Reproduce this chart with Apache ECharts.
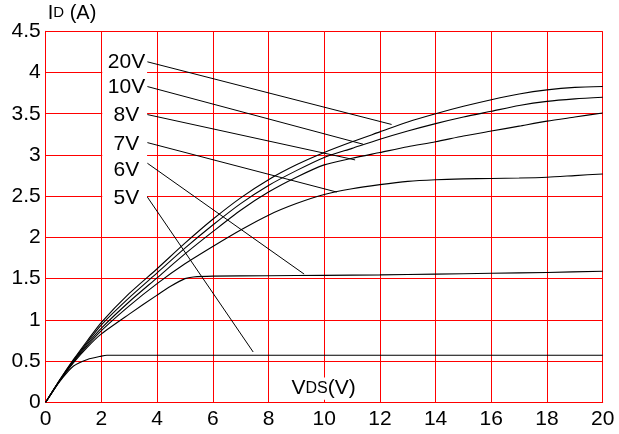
<!DOCTYPE html>
<html>
<head>
<meta charset="utf-8">
<script src="https://cdn.jsdelivr.net/npm/echarts@6/dist/echarts.min.js"></script>
<style>
  html, body { margin: 0; padding: 0; background: #fff; }
  #chart { width: 619px; height: 434px; }
</style>
</head>
<body>
<div id="chart"></div>
<script>
// Output characteristics: drain current ID (A) versus drain-source voltage VDS (V)
// for several gate voltages.

const vdsGrid = [0, 0.5, 1, 1.5, 2, 3, 4, 5, 6, 7, 8, 9, 10, 11, 12, 13, 14, 15, 16, 17, 18, 19, 20];

const id20V = [0, 0.27, 0.52, 0.75, 0.97, 1.32, 1.62, 1.93, 2.22, 2.48, 2.70, 2.88, 3.03, 3.16, 3.28, 3.40, 3.50, 3.59, 3.67, 3.74, 3.79, 3.82, 3.83];
const id10V = [0, 0.27, 0.51, 0.73, 0.94, 1.27, 1.57, 1.87, 2.15, 2.41, 2.63, 2.81, 2.97, 3.08, 3.19, 3.29, 3.38, 3.46, 3.53, 3.60, 3.65, 3.68, 3.70];
const id8V  = [0, 0.26, 0.50, 0.71, 0.90, 1.22, 1.51, 1.80, 2.07, 2.33, 2.55, 2.73, 2.88, 2.96, 3.03, 3.10, 3.16, 3.23, 3.29, 3.35, 3.41, 3.46, 3.51];
const id7V  = [0, 0.26, 0.49, 0.69, 0.87, 1.17, 1.44, 1.68, 1.89, 2.09, 2.27, 2.41, 2.52, 2.59, 2.64, 2.68, 2.70, 2.71, 2.715, 2.72, 2.73, 2.75, 2.77];

const vds6V = [0, 0.5, 1, 1.5, 2, 3, 4, 4.5, 5, 5.3, 6, 8, 10, 12, 14, 16, 18, 20];
const id6V  = [0, 0.26, 0.48, 0.67, 0.83, 1.07, 1.30, 1.41, 1.50, 1.52, 1.53, 1.535, 1.54, 1.545, 1.555, 1.565, 1.575, 1.59];

const vds5V = [0, 0.5, 1, 1.5, 2, 2.2, 20];
const id5V  = [0, 0.25, 0.44, 0.52, 0.56, 0.57, 0.57];

const gateLabels = ['20V', '10V', '8V', '7V', '6V', '5V'];

// Callout annotations: label anchor, leader start and leader end (data units)
const labelAnchors = [[2.90, 4.13], [2.90, 3.82], [2.90, 3.48], [2.90, 3.13], [2.90, 2.81], [2.90, 2.48]];
const leaderStarts = [[3.65, 4.13], [3.65, 3.83], [3.65, 3.49], [3.65, 3.15], [3.65, 2.90], [3.63, 2.50]];
const leaderEnds   = [[12.42, 3.37], [11.40, 3.13], [11.11, 2.94], [10.45, 2.55], [9.28, 1.555], [7.45, 0.61]];

// Blank panels (data units): caption column and x-axis title
const captionPanel = [[2.03, 4.30], [3.64, 2.38]];
const titlePanel   = [[8.6, 0.30], [11.36, 0.03]];

const xMin = 0, xMax = 20, xStep = 2;
const yMin = 0, yMax = 4.5, yStep = 0.5;

const FONT = "'Liberation Sans', Arial, Helvetica, sans-serif";
const RED = '#ff0000';

function pairs(xs, ys) { return xs.map((x, i) => [x, ys[i]]); }

const curveSets = [
  pairs(vdsGrid, id20V),
  pairs(vdsGrid, id10V),
  pairs(vdsGrid, id8V),
  pairs(vdsGrid, id7V),
  pairs(vds6V, id6V),
  pairs(vds5V, id5V)
];

const series = [];

curveSets.forEach((data, i) => {
  series.push({
    name: gateLabels[i],
    type: 'line',
    data: data,
    smooth: 0.25,
    showSymbol: false,
    symbol: 'none',
    lineStyle: { color: '#000', width: 1.1 },
    z: 2,
    silent: true
  });
});

leaderStarts.forEach((s, i) => {
  series.push({
    type: 'line',
    data: [s, leaderEnds[i]],
    showSymbol: false,
    symbol: 'none',
    lineStyle: { color: '#000', width: 1 },
    z: 2,
    silent: true
  });
});

series.push({
  type: 'scatter',
  data: labelAnchors.map((p, i) => ({ value: p, name: gateLabels[i] })),
  symbolSize: 0,
  itemStyle: { opacity: 1 },
  z: 10,
  silent: true,
  label: {
    show: true,
    position: 'inside',
    formatter: (p) => p.name,
    fontSize: 21,
    fontFamily: FONT,
    color: '#000'
  }
});

const chart = echarts.init(document.getElementById('chart'), null, { renderer: 'canvas' });

chart.setOption({
  animation: false,
  backgroundColor: '#fff',
  textStyle: { fontFamily: FONT },
  grid: { left: 45.7, right: 16.3, top: 31.3, bottom: 31.7, containLabel: false },
  xAxis: {
    type: 'value',
    min: xMin,
    max: xMax,
    interval: xStep,
    axisLine: { show: true, lineStyle: { color: RED, width: 1 } },
    axisTick: { show: false },
    axisLabel: { color: '#000', fontSize: 21, fontFamily: FONT, margin: 6 },
    splitLine: { show: true, lineStyle: { color: RED, width: 1 } }
  },
  yAxis: {
    type: 'value',
    min: yMin,
    max: yMax,
    interval: yStep,
    name: '{a|I}{b|D}{a| (A)}',
    nameLocation: 'end',
    nameGap: 8,
    nameTextStyle: {
      align: 'left',
      verticalAlign: 'bottom',
      padding: [0, 0, 0, 2],
      rich: {
        a: { fontSize: 20, fontFamily: FONT, color: '#000' },
        b: { fontSize: 15, fontFamily: FONT, color: '#000' }
      }
    },
    axisLine: { show: true, lineStyle: { color: RED, width: 1 } },
    axisTick: { show: false },
    axisLabel: { color: '#000', fontSize: 21, fontFamily: FONT, margin: 5 },
    splitLine: { show: true, lineStyle: { color: RED, width: 1 } }
  },
  tooltip: { show: false },
  series: series
});

// Panels are placed through the grid's own coordinate conversion
function panelRect(corners) {
  const a = chart.convertToPixel({ gridIndex: 0 }, corners[0]);
  const b = chart.convertToPixel({ gridIndex: 0 }, corners[1]);
  return {
    x: Math.min(a[0], b[0]),
    y: Math.min(a[1], b[1]),
    width: Math.abs(b[0] - a[0]),
    height: Math.abs(b[1] - a[1])
  };
}

const capRect = panelRect(captionPanel);
const titRect = panelRect(titlePanel);

chart.setOption({
  graphic: [
    {
      type: 'rect',
      z: 5,
      silent: true,
      shape: capRect,
      style: { fill: '#fff' }
    },
    {
      type: 'rect',
      z: 5,
      silent: true,
      shape: titRect,
      style: { fill: '#fff' }
    },
    {
      type: 'text',
      z: 6,
      silent: true,
      x: titRect.x + titRect.width / 2,
      y: titRect.y + titRect.height / 2,
      style: {
        text: '{a|V}{b|DS}{a|(V)}',
        align: 'center',
        verticalAlign: 'middle',
        rich: {
          a: { fontSize: 21, fontFamily: FONT, fill: '#000' },
          b: { fontSize: 16, fontFamily: FONT, fill: '#000' }
        }
      }
    }
  ]
});
</script>
</body>
</html>
